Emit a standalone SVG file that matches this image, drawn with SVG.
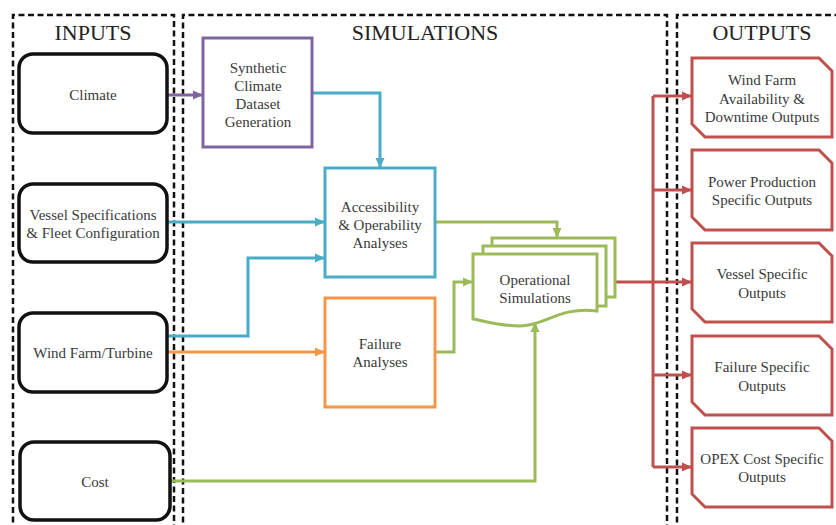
<svg xmlns="http://www.w3.org/2000/svg" width="836" height="525" viewBox="0 0 836 525">
<style>
text{font-family:"Liberation Serif","DejaVu Serif",serif;text-anchor:middle;fill:#3a3a3a}
.t{font-size:15px}
.h{font-size:22px;fill:#222}
.panel{fill:none;stroke:#111;stroke-width:2.5;stroke-dasharray:6 3.5}
.inp{fill:#fff;stroke:#111;stroke-width:3.5}
.c{fill:none;stroke-width:3}
.pu{stroke:#8064a2}.bl{stroke:#4bacc6}.or{stroke:#f79646}.gr{stroke:#9bbb59}.rd{stroke:#c0504d}
.box{fill:#fff;stroke-width:3}
</style>
<defs>
<marker id="aPu" markerUnits="userSpaceOnUse" markerWidth="12" markerHeight="12" refX="11" refY="6" orient="auto"><path d="M1,1.5 L11,6 L1,10.5 Z" fill="#8064a2"/></marker>
<marker id="aBl" markerUnits="userSpaceOnUse" markerWidth="12" markerHeight="12" refX="11" refY="6" orient="auto"><path d="M1,1.5 L11,6 L1,10.5 Z" fill="#4bacc6"/></marker>
<marker id="aOr" markerUnits="userSpaceOnUse" markerWidth="12" markerHeight="12" refX="11" refY="6" orient="auto"><path d="M1,1.5 L11,6 L1,10.5 Z" fill="#f79646"/></marker>
<marker id="aGr" markerUnits="userSpaceOnUse" markerWidth="12" markerHeight="12" refX="11" refY="6" orient="auto"><path d="M1,1.5 L11,6 L1,10.5 Z" fill="#9bbb59"/></marker>
<marker id="aRd" markerUnits="userSpaceOnUse" markerWidth="12" markerHeight="12" refX="11" refY="6" orient="auto"><path d="M1,1.5 L11,6 L1,10.5 Z" fill="#c0504d"/></marker>
</defs>
<rect width="836" height="525" fill="#fff"/>

<g id="panels" font-family="Liberation Serif, serif">
<path class="panel" d="M13,532 V15 H174 V532"/>
<path class="panel" d="M183,532 V15 H667 V532"/>
<path class="panel" d="M677,532 V15 H845"/>
<text class="h" x="93" y="40">INPUTS</text>
<text class="h" x="425" y="40">SIMULATIONS</text>
<text class="h" x="762" y="40">OUTPUTS</text>
</g>

<g id="connectors">
<path class="c pu" d="M167,95 H203" marker-end="url(#aPu)"/>
<path class="c bl" d="M312,93 H380 V168" marker-end="url(#aBl)"/>
<path class="c bl" d="M167,222 H325" marker-end="url(#aBl)"/>
<path class="c bl" d="M167,336 H248 V258 H325" marker-end="url(#aBl)"/>
<path class="c or" d="M167,352 H325" marker-end="url(#aOr)"/>
<path class="c gr" d="M435,222 H557 V238" marker-end="url(#aGr)"/>
<path class="c gr" d="M435,352 H454 V282 H473" marker-end="url(#aGr)"/>
<path class="c gr" d="M170,481 H535 V322" marker-end="url(#aGr)"/>
<path class="c rd" d="M615,282 H692" marker-end="url(#aRd)"/>
<path class="c rd" d="M653,96 V467"/>
<path class="c rd" d="M653,96 H692" marker-end="url(#aRd)"/>
<path class="c rd" d="M653,190 H692" marker-end="url(#aRd)"/>
<path class="c rd" d="M653,375 H692" marker-end="url(#aRd)"/>
<path class="c rd" d="M653,467 H692" marker-end="url(#aRd)"/>
</g>

<g id="climate">
<rect class="inp" x="19" y="54" width="148" height="79" rx="14"/>
<text class="t" x="93" y="100">Climate</text>
</g>
<g id="vessel">
<rect class="inp" x="19" y="184" width="148" height="78" rx="14"/>
<text class="t" x="93" y="220">Vessel Specifications</text>
<text class="t" x="93" y="238">&amp; Fleet Configuration</text>
</g>
<g id="windfarm">
<rect class="inp" x="19" y="313" width="148" height="79" rx="14"/>
<text class="t" x="93" y="358">Wind Farm/Turbine</text>
</g>
<g id="cost">
<rect class="inp" x="20" y="442" width="150" height="78" rx="14"/>
<text class="t" x="95" y="487">Cost</text>
</g>

<g id="synthetic">
<rect class="box pu" x="203" y="38" width="109" height="109"/>
<text class="t" x="258" y="73">Synthetic</text>
<text class="t" x="258" y="91">Climate</text>
<text class="t" x="258" y="109">Dataset</text>
<text class="t" x="258" y="127">Generation</text>
</g>
<g id="accessibility">
<rect class="box bl" x="325" y="168" width="110" height="109"/>
<text class="t" x="380" y="212">Accessibility</text>
<text class="t" x="380" y="230">&amp; Operability</text>
<text class="t" x="380" y="248">Analyses</text>
</g>
<g id="failure">
<rect class="box or" x="325" y="298" width="110" height="109"/>
<text class="t" x="380" y="349">Failure</text>
<text class="t" x="380" y="367">Analyses</text>
</g>
<g id="operational">
<path class="box gr" d="M492,246 V238 H615 V297 H606"/>
<path class="box gr" d="M483,254 V246 H606 V306 H597"/>
<path class="box gr" d="M473,254 H597 V311 C560,306 545,326 520,326 C500,326 485,321 473,319 Z"/>
<text class="t" x="535" y="285">Operational</text>
<text class="t" x="535" y="303">Simulations</text>
</g>

<g id="out-availability">
<path class="box rd" d="M692,58 H819 L832,71 V137 H705 L692,124 Z"/>
<text class="t" x="762" y="85">Wind Farm</text>
<text class="t" x="762" y="104">Availability &amp;</text>
<text class="t" x="762" y="122">Downtime Outputs</text>
</g>
<g id="out-power">
<path class="box rd" d="M692,150 H819 L832,163 V230 H705 L692,217 Z"/>
<text class="t" x="762" y="187">Power Production</text>
<text class="t" x="762" y="205">Specific Outputs</text>
</g>
<g id="out-vessel">
<path class="box rd" d="M692,243 H819 L832,256 V322 H705 L692,309 Z"/>
<text class="t" x="762" y="279">Vessel Specific</text>
<text class="t" x="762" y="298">Outputs</text>
</g>
<g id="out-failure">
<path class="box rd" d="M692,336 H819 L832,349 V415 H705 L692,402 Z"/>
<text class="t" x="762" y="372">Failure Specific</text>
<text class="t" x="762" y="391">Outputs</text>
</g>
<g id="out-opex">
<path class="box rd" d="M692,428 H819 L832,441 V507 H705 L692,494 Z"/>
<text class="t" x="762" y="464">OPEX Cost Specific</text>
<text class="t" x="762" y="482">Outputs</text>
</g>
</svg>
